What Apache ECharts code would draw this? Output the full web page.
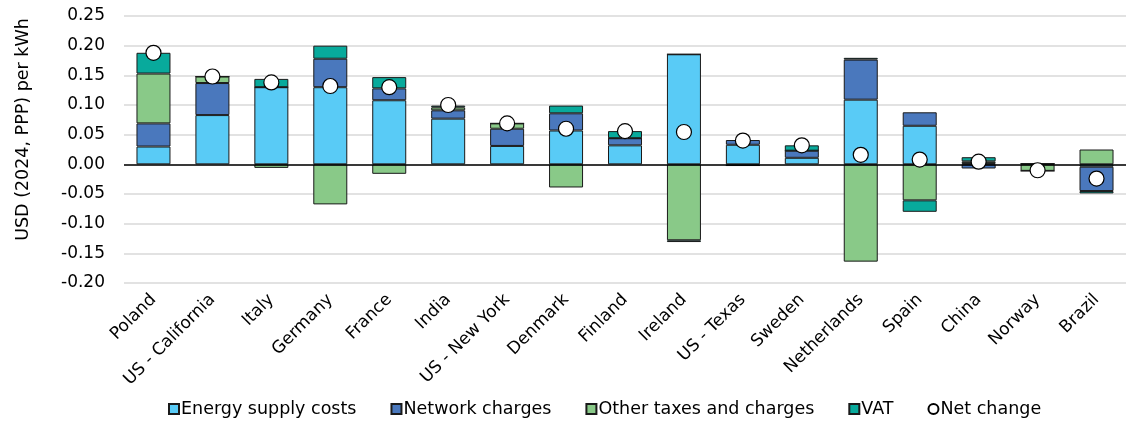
<!DOCTYPE html>
<html>
<head>
<meta charset="utf-8">
<script src="https://cdn.jsdelivr.net/npm/echarts@6/dist/echarts.min.js"></script>
<style>
  html, body { margin: 0; padding: 0; background: #fff; }
  #chart { width: 1126px; height: 427px; }
</style>
</head>
<body>
<div id="chart"></div>
<script>
// 类别
var countries = ["Poland", "US - California", "Italy", "Germany", "France", "India", "US - New York",
  "Denmark", "Finland", "Ireland", "US - Texas", "Sweden", "Netherlands", "Spain", "China", "Norway", "Brazil"];

// 各组成部分 (USD per kWh)
var energySupply = [0.030, 0.083, 0.130, 0.130, 0.108, 0.077, 0.031, 0.057, 0.032, 0.1855, 0.033, 0.011, 0.109, 0.065, 0.002, 0.001, -0.004];
var networkCharges = [0.039, 0.054, 0, 0.048, 0.020, 0.014, 0.029, 0.029, 0.012, 0, 0.008, 0.012, 0.0675, 0.0227, -0.007, 0, -0.041];
var otherTaxes = [0.084, 0.011, -0.006, -0.0675, -0.016, 0.005, 0.009, -0.039, 0, -0.128, -0.002, 0, -0.164, -0.0607, 0.003, -0.011, 0.025];
var vat = [0.035, 0, 0.014, 0.022, 0.019, 0.003, 0, 0.013, 0.012, -0.003, 0, 0.009, 0.003, -0.0193, 0.007, 0, -0.004];
var netChange = [0.188, 0.148, 0.138, 0.132, 0.130, 0.100, 0.069, 0.060, 0.056, 0.0545, 0.040, 0.032, 0.016, 0.008, 0.0045, -0.010, -0.024];

var yTicks = { min: -0.2, max: 0.25, interval: 0.05 };

var chart = echarts.init(document.getElementById("chart"));
var font = "DejaVu Sans, Liberation Sans, Arial, sans-serif";

function barSeries(name, data, color) {
  return {
    name: name,
    type: "bar",
    stack: "total",
    barWidth: 34,
    data: data,
    itemStyle: { color: color, borderColor: "#1a1a1a", borderWidth: 1 },
  };
}

var option = {
  animation: false,
  textStyle: { fontFamily: font },
  grid: { left: 124, right: -7, top: 16, bottom: 144 },
  legend: {
    bottom: 4,
    left: 163,
    itemWidth: 10,
    itemHeight: 10,
    itemGap: 34,
    textStyle: { fontSize: 17.5, color: "#000", fontFamily: font, padding: [0, 0, 0, -3] },
    data: [
      { name: "Energy supply costs", icon: "rect" },
      { name: "Network charges", icon: "rect" },
      { name: "Other taxes and charges", icon: "rect" },
      { name: "VAT", icon: "rect" },
      { name: "Net change", icon: "circle" },
    ],
  },
  xAxis: {
    type: "category",
    data: countries,
    axisLine: { show: false, onZero: false },
    axisTick: { show: false },
    axisLabel: { interval: 0, rotate: 45, fontSize: 17, color: "#000", margin: 14, fontFamily: font },
  },
  yAxis: {
    type: "value",
    min: yTicks.min,
    max: yTicks.max,
    interval: yTicks.interval,
    name: "USD (2024, PPP) per kWh",
    nameLocation: "middle",
    nameGap: 92,
    nameTextStyle: { fontSize: 17.5, color: "#000", fontFamily: font, padding: [0, 0, 0, 40] },
    axisLine: { show: false },
    axisTick: { show: false },
    axisLabel: {
      fontSize: 17,
      color: "#000",
      margin: 19,
      fontFamily: font,
      formatter: function (v) { return v.toFixed(2); },
    },
    splitLine: { lineStyle: { color: "#d9d9d9", width: 1.5 } },
  },
  series: [
    barSeries("Energy supply costs", energySupply, "#59CBF6"),
    barSeries("Network charges", networkCharges, "#4A78BD"),
    barSeries("Other taxes and charges", otherTaxes, "#89C988"),
    barSeries("VAT", vat, "#08AA9C"),
    {
      name: "Net change",
      type: "scatter",
      data: netChange,
      symbol: "circle",
      symbolSize: 15,
      z: 5,
      itemStyle: { color: "#fff", borderColor: "#000", borderWidth: 1.2, opacity: 1 },
      markLine: {
        silent: true,
        symbol: "none",
        label: { show: false },
        lineStyle: { color: "#000", width: 1.5, type: "solid" },
        data: [{ yAxis: 0 }],
      },
    },
  ],
};

chart.setOption(option);
</script>
</body>
</html>
